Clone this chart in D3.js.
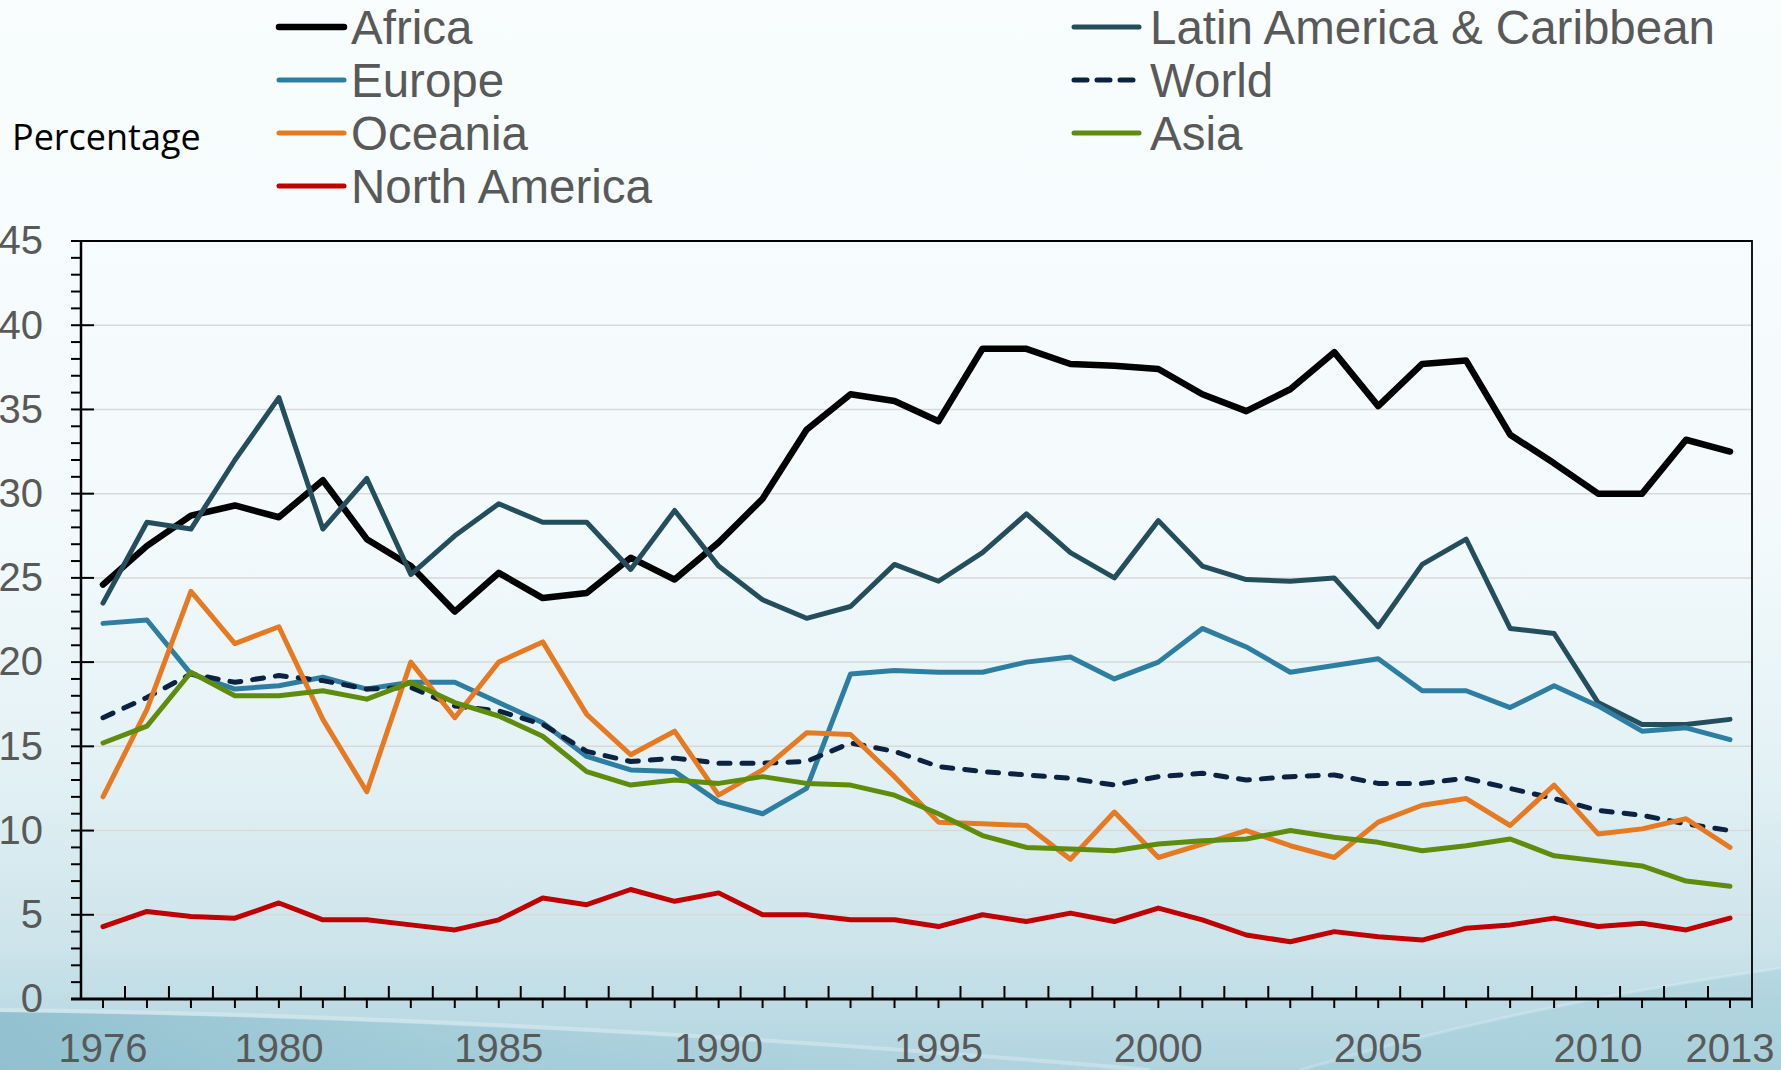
<!DOCTYPE html>
<html>
<head>
<meta charset="utf-8">
<script src="https://cdn.jsdelivr.net/npm/d3@7"></script>
<style>
  body { margin: 0; overflow: hidden; }
  svg { display: block; }
</style>
</head>
<body>
<svg id="chart" width="1781" height="1070"></svg>
<script>
const years = [1976, 1977, 1978, 1979, 1980, 1981, 1982, 1983, 1984, 1985, 1986, 1987,
  1988, 1989, 1990, 1991, 1992, 1993, 1994, 1995, 1996, 1997, 1998, 1999, 2000,
  2001, 2002, 2003, 2004, 2005, 2006, 2007, 2008, 2009, 2010, 2011, 2012, 2013]

const yearLabels = [1976, 1980, 1985, 1990, 1995, 2000, 2005, 2010, 2013]
const yTicks = [0, 5, 10, 15, 20, 25, 30, 35, 40, 45]

const africa = [24.6, 26.9, 28.7, 29.3, 28.6, 30.8, 27.3, 25.7, 23.0, 25.3, 23.8, 24.1,
  26.2, 24.9, 27.1, 29.7, 33.8, 35.9, 35.5, 34.3, 38.6, 38.6, 37.7, 37.6, 37.4,
  35.9, 34.9, 36.2, 38.4, 35.2, 37.7, 37.9, 33.5, 31.8, 30.0, 30.0, 33.2, 32.5]
const latinAmerica = [23.5, 28.3, 27.9, 32.0, 35.7, 27.9, 30.9, 25.2, 27.5, 29.4, 28.3, 28.3,
  25.5, 29.0, 25.7, 23.7, 22.6, 23.3, 25.8, 24.8, 26.5, 28.8, 26.5, 25.0, 28.4,
  25.7, 24.9, 24.8, 25.0, 22.1, 25.8, 27.3, 22.0, 21.7, 17.6, 16.3, 16.3, 16.6]
const europe = [22.3, 22.5, 19.3, 18.4, 18.6, 19.1, 18.4, 18.8, 18.8, 17.6, 16.4, 14.4,
  13.6, 13.5, 11.7, 11.0, 12.5, 19.3, 19.5, 19.4, 19.4, 20.0, 20.3, 19.0, 20.0,
  22.0, 20.9, 19.4, 19.8, 20.2, 18.3, 18.3, 17.3, 18.6, 17.4, 15.9, 16.1, 15.4]
const world = [16.7, 17.9, 19.3, 18.8, 19.2, 18.9, 18.4, 18.5, 17.4, 17.1, 16.3, 14.7,
  14.1, 14.3, 14.0, 14.0, 14.1, 15.2, 14.7, 13.8, 13.5, 13.3, 13.1, 12.7, 13.2,
  13.4, 13.0, 13.2, 13.3, 12.8, 12.8, 13.1, 12.5, 11.9, 11.2, 10.9, 10.4, 10.0]
const oceania = [12.0, 17.2, 24.2, 21.1, 22.1, 16.6, 12.3, 20.0, 16.7, 20.0, 21.2, 16.9,
  14.5, 15.9, 12.1, 13.6, 15.8, 15.7, 13.2, 10.5, 10.4, 10.3, 8.3, 11.1, 8.4,
  9.2, 10.0, 9.1, 8.4, 10.5, 11.5, 11.9, 10.3, 12.7, 9.8, 10.1, 10.7, 9.0]
const asia = [15.2, 16.2, 19.4, 18.0, 18.0, 18.3, 17.8, 18.8, 17.6, 16.8, 15.6, 13.5,
  12.7, 13.0, 12.8, 13.2, 12.8, 12.7, 12.1, 11.0, 9.7, 9.0, 8.9, 8.8, 9.2,
  9.4, 9.5, 10.0, 9.6, 9.3, 8.8, 9.1, 9.5, 8.5, 8.2, 7.9, 7.0, 6.7]
const northAmerica = [4.3, 5.2, 4.9, 4.8, 5.7, 4.7, 4.7, 4.4, 4.1, 4.7, 6.0, 5.6,
  6.5, 5.8, 6.3, 5.0, 5.0, 4.7, 4.7, 4.3, 5.0, 4.6, 5.1, 4.6, 5.4,
  4.7, 3.8, 3.4, 4.0, 3.7, 3.5, 4.2, 4.4, 4.8, 4.3, 4.5, 4.1, 4.8]

// series in legend order (read row by row over the two legend columns)
const series = [
  {name: 'Africa', values: africa, color: '#000000', width: 6.5, col: 0, row: 0},
  {name: 'Latin America & Caribbean', values: latinAmerica, color: '#254e5c', width: 5, col: 1, row: 0},
  {name: 'Europe', values: europe, color: '#2e7ea2', width: 5, col: 0, row: 1},
  {name: 'World', values: world, color: '#0b2240', width: 5, col: 1, row: 1, dash: '11,12'},
  {name: 'Oceania', values: oceania, color: '#e57a22', width: 5, col: 0, row: 2},
  {name: 'Asia', values: asia, color: '#5f8c0c', width: 5, col: 1, row: 2},
  {name: 'North America', values: northAmerica, color: '#c00000', width: 5, col: 0, row: 3}
]

const svg = d3.select('#chart')
const W = 1781, H = 1070
const plot = {left: 81, right: 1752, top: 241, bottom: 999}
const labelFont = "'Liberation Sans', Arial, sans-serif"

// background gradient + swooshes
const defs = svg.append('defs')
const bg = defs.append('linearGradient')
  .attr('id', 'bg').attr('x1', 0).attr('y1', 0).attr('x2', 0).attr('y2', 1)
bg.append('stop').attr('offset', '0%').attr('stop-color', '#f9fdfe')
bg.append('stop').attr('offset', '50%').attr('stop-color', '#f3fafc')
bg.append('stop').attr('offset', '72%').attr('stop-color', '#e3f1f5')
bg.append('stop').attr('offset', '88%').attr('stop-color', '#cde4eb')
bg.append('stop').attr('offset', '100%').attr('stop-color', '#b0d4df')

const swoosh = defs.append('linearGradient')
  .attr('id', 'swoosh').attr('x1', 0).attr('y1', 0).attr('x2', 1).attr('y2', 0)
swoosh.append('stop').attr('offset', '0%').attr('stop-color', '#86b9ca').attr('stop-opacity', 0.75)
swoosh.append('stop').attr('offset', '100%').attr('stop-color', '#9ccad8').attr('stop-opacity', 0)

svg.append('rect').attr('width', W).attr('height', H).attr('fill', 'url(#bg)')

svg.append('path')
  .attr('d', 'M0,1012 Q500,1018 1150,1070 L0,1070 Z')
  .attr('fill', 'url(#swoosh)')
svg.append('path')
  .attr('d', 'M0,1010 Q520,1015 1150,1070')
  .attr('fill', 'none').attr('stroke', '#ffffff').attr('stroke-width', 4).attr('opacity', 0.25)
svg.append('path')
  .attr('d', 'M1300,1070 Q1520,1005 1781,968 L1781,1070 Z')
  .attr('fill', '#9ccad8').attr('opacity', 0.4)
svg.append('path')
  .attr('d', 'M1300,1070 Q1520,1005 1781,968')
  .attr('fill', 'none').attr('stroke', '#ffffff').attr('stroke-width', 3).attr('opacity', 0.2)

// scales
const xScale = d3.scaleBand()
  .domain(years)
  .range([plot.left, plot.right])

const yScale = d3.scaleLinear()
  .domain([0, 45])
  .range([plot.bottom, plot.top])

const xMid = d => xScale(d) + xScale.bandwidth() / 2

// horizontal grid
svg.append('g')
  .selectAll('line')
  .data(yTicks.filter(t => t > 0 && t < 45))
  .join('line')
  .attr('x1', plot.left).attr('x2', plot.right)
  .attr('y1', d => yScale(d)).attr('y2', d => yScale(d))
  .attr('stroke', '#d9d9d9').attr('stroke-width', 1.5)

// frame: top and right border
svg.append('path')
  .attr('d', `M${plot.left},${plot.top}H${plot.right}V${plot.bottom + 9}`)
  .attr('fill', 'none').attr('stroke', '#000').attr('stroke-width', 1.8)

// y axis labels
const yAxis = svg.append('g')
  .attr('transform', `translate(${plot.left},0)`)
  .call(d3.axisLeft(yScale).tickValues(yTicks).tickSize(0).tickPadding(38))
yAxis.call(g => g.select('.domain').remove())
yAxis.selectAll('text')
  .attr('font-family', labelFont)
  .attr('font-size', 40)
  .attr('fill', '#595959')

// minor and major y ticks
svg.append('g')
  .selectAll('line')
  .data(d3.range(0, 46))
  .join('line')
  .attr('x1', plot.left - 10)
  .attr('x2', d => d % 5 === 0 ? plot.left + 13 : plot.left)
  .attr('y1', d => yScale(d)).attr('y2', d => yScale(d))
  .attr('stroke', '#000').attr('stroke-width', 2)

svg.append('line')
  .attr('x1', plot.left).attr('x2', plot.left)
  .attr('y1', plot.top).attr('y2', plot.bottom)
  .attr('stroke', '#000').attr('stroke-width', 2.5)

// x axis labels
const xAxis = svg.append('g')
  .attr('transform', `translate(0,${plot.bottom})`)
  .call(d3.axisBottom(xScale).tickValues(yearLabels).tickSize(0).tickPadding(35))
xAxis.call(g => g.select('.domain').remove())
xAxis.selectAll('text')
  .attr('font-family', labelFont)
  .attr('font-size', 40)
  .attr('fill', '#595959')

// x ticks: down at category centres, up at category boundaries
svg.append('g')
  .selectAll('line')
  .data(years)
  .join('line')
  .attr('x1', d => xMid(d)).attr('x2', d => xMid(d))
  .attr('y1', plot.bottom).attr('y2', plot.bottom + 9)
  .attr('stroke', '#000').attr('stroke-width', 2)

svg.append('g')
  .selectAll('line')
  .data(years.slice(1))
  .join('line')
  .attr('x1', d => xScale(d)).attr('x2', d => xScale(d))
  .attr('y1', plot.bottom - 13).attr('y2', plot.bottom)
  .attr('stroke', '#000').attr('stroke-width', 2)

svg.append('line')
  .attr('x1', plot.left - 10).attr('x2', plot.right)
  .attr('y1', plot.bottom).attr('y2', plot.bottom)
  .attr('stroke', '#000').attr('stroke-width', 3)

// lines
const line = d3.line()
  .x((d, i) => xMid(years[i]))
  .y(d => yScale(d))

svg.append('g')
  .selectAll('path')
  .data(series)
  .join('path')
  .attr('d', d => line(d.values))
  .attr('fill', 'none')
  .attr('stroke', d => d.color)
  .attr('stroke-width', d => d.width)
  .attr('stroke-linejoin', 'round')
  .attr('stroke-linecap', 'round')
  .attr('stroke-dasharray', d => d.dash || null)

// legend
const legendCols = [{lineX: 279, textX: 351}, {lineX: 1074, textX: 1150}]
const legendRows = [27, 80, 133, 186]

const legend = svg.append('g')
  .selectAll('g')
  .data(series)
  .join('g')
  .attr('transform', d => `translate(${legendCols[d.col].lineX},${legendRows[d.row]})`)

legend.append('line')
  .attr('x1', 0).attr('x2', 65)
  .attr('stroke', d => d.color)
  .attr('stroke-width', d => d.width)
  .attr('stroke-linecap', 'round')
  .attr('stroke-dasharray', d => d.dash ? '13,10' : null)

legend.append('text')
  .attr('x', d => legendCols[d.col].textX - legendCols[d.col].lineX)
  .attr('y', 17)
  .attr('font-family', labelFont)
  .attr('font-size', 47.5)
  .attr('fill', '#595959')
  .text(d => d.name)

// y axis title
svg.append('text')
  .attr('x', 12)
  .attr('y', 150)
  .attr('font-family', "'Open Sans', 'Noto Sans', sans-serif")
  .attr('font-size', 36)
  .attr('fill', '#000')
  .text('Percentage')
</script>
</body>
</html>
